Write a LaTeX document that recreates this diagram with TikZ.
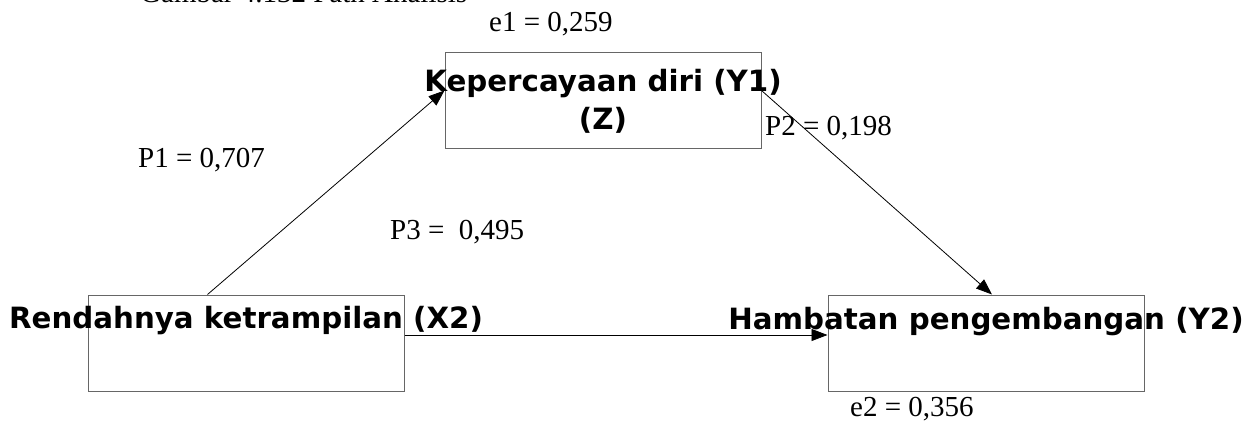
\documentclass[tikz,border=0pt]{standalone}
\usepackage{fontspec}
\setmainfont{Liberation Serif}
\newfontfamily\boxfont{DejaVu Sans}
\usetikzlibrary{arrows.meta}
\tikzset{
  varbox/.style={draw=black!60, line width=1pt, fill=none, minimum width=316pt, minimum height=96pt, inner sep=0pt},
  varlabel/.style={font=\boxfont\bfseries\fontsize{29.3}{38}\selectfont, align=center, inner sep=0pt},
  coef/.style={font=\fontsize{29}{32}\selectfont, inner sep=0pt, anchor=west},
  path/.style={draw=black, line width=0.8pt, -{Triangle[length=16pt, width=12pt]}},
}
\begin{document}
\begin{tikzpicture}[x=1pt, y=-1pt]
\useasboundingbox (0,0) rectangle (1243,428);
\clip (0,0) rectangle (1243,428);
\node[coef, anchor=base west] (title) at (140,2.5) {Gambar 4.132 Path Analisis};
\node[varbox] (z) at (603,100.5) {};
\node[varbox] (x) at (246,343) {};
\node[varbox] (y) at (986,343) {};
\node[varlabel] (zl) at (603,101) {Kepercayaan diri (Y1)\\(Z)};
\node[varlabel] (xl) at (246,321) {Rendahnya ketrampilan (X2)};
\node[varlabel] (yl) at (986,322) {Hambatan pengembangan (Y2)};
\node[coef] (e1) at (489,24) {e1 = 0,259};
\node[coef] (p1) at (138,160) {P1 = 0,707};
\node[coef] (p2) at (765,128) {P2 = 0,198};
\node[coef] (p3) at (390,232) {P3 =\ \ 0,495};
\node[coef] (e2) at (850,409) {e2 = 0,356};
\draw[path] (x.north west) ++(120,0) coordinate (xa) -- ([yshift=10pt]z.west);
\draw[path] ([yshift=10pt]z.east) -- ([xshift=6pt]y.north);
\draw[path] ([yshift=8pt]x.east) -- ([yshift=8pt]y.west);
\end{tikzpicture}
\end{document}
